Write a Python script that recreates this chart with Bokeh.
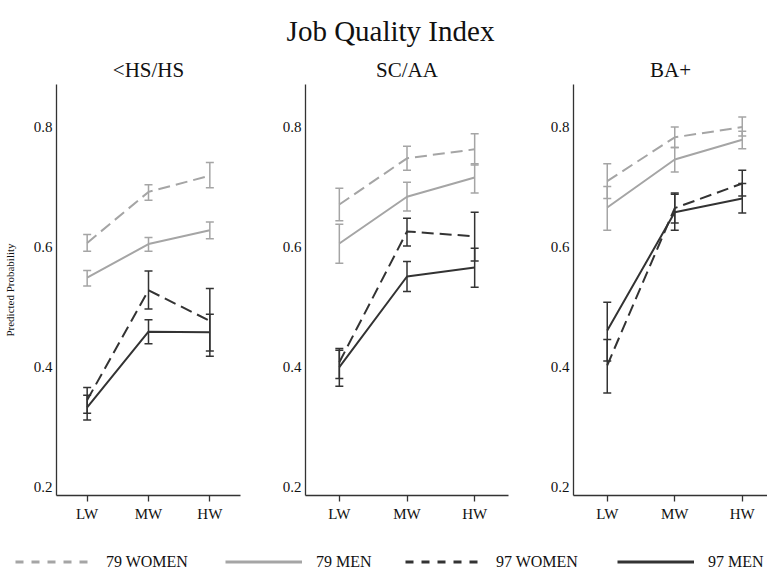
from bokeh.plotting import figure
from bokeh.layouts import column, row
from bokeh.models import (ColumnDataSource, Whisker, TeeHead, FixedTicker, Range1d,
                          Legend, LegendItem, Label)
from bokeh.embed import file_html
from bokeh.resources import INLINE

# ---------------- data ----------------
categories = ["LW", "MW", "HW"]
x_pos = [1, 2, 3]
panel_titles = ["<HS/HS", "SC/AA", "BA+"]
series_names = ["79 WOMEN", "79 MEN", "97 WOMEN", "97 MEN"]
y_ticks = [0.2, 0.4, 0.6, 0.8]

# <HS/HS
hs_w79 = [0.607, 0.692, 0.719]; hs_w79_lo = [0.593, 0.678, 0.699]; hs_w79_hi = [0.621, 0.704, 0.741]
hs_m79 = [0.549, 0.605, 0.628]; hs_m79_lo = [0.535, 0.593, 0.614]; hs_m79_hi = [0.561, 0.616, 0.642]
hs_w97 = [0.345, 0.528, 0.477]; hs_w97_lo = [0.323, 0.497, 0.418]; hs_w97_hi = [0.366, 0.560, 0.531]
hs_m97 = [0.333, 0.459, 0.458]; hs_m97_lo = [0.312, 0.439, 0.427]; hs_m97_hi = [0.353, 0.479, 0.488]

# SC/AA
sc_w79 = [0.671, 0.748, 0.763]; sc_w79_lo = [0.644, 0.728, 0.737]; sc_w79_hi = [0.698, 0.768, 0.789]
sc_m79 = [0.606, 0.684, 0.716]; sc_m79_lo = [0.573, 0.660, 0.690]; sc_m79_hi = [0.638, 0.708, 0.739]
sc_w97 = [0.408, 0.626, 0.618]; sc_w97_lo = [0.381, 0.602, 0.577]; sc_w97_hi = [0.431, 0.648, 0.658]
sc_m97 = [0.400, 0.551, 0.566]; sc_m97_lo = [0.368, 0.526, 0.533]; sc_m97_hi = [0.428, 0.576, 0.598]

# BA+
ba_w79 = [0.710, 0.783, 0.800]; ba_w79_lo = [0.681, 0.766, 0.785]; ba_w79_hi = [0.739, 0.800, 0.817]
ba_m79 = [0.666, 0.746, 0.779]; ba_m79_lo = [0.628, 0.725, 0.764]; ba_m79_hi = [0.701, 0.766, 0.793]
ba_w97 = [0.403, 0.665, 0.706]; ba_w97_lo = [0.357, 0.640, 0.685]; ba_w97_hi = [0.446, 0.690, 0.728]
ba_m97 = [0.461, 0.658, 0.681]; ba_m97_lo = [0.410, 0.628, 0.657]; ba_m97_hi = [0.508, 0.688, 0.706]

panels_data = [
    [(hs_w79, hs_w79_lo, hs_w79_hi), (hs_m79, hs_m79_lo, hs_m79_hi),
     (hs_w97, hs_w97_lo, hs_w97_hi), (hs_m97, hs_m97_lo, hs_m97_hi)],
    [(sc_w79, sc_w79_lo, sc_w79_hi), (sc_m79, sc_m79_lo, sc_m79_hi),
     (sc_w97, sc_w97_lo, sc_w97_hi), (sc_m97, sc_m97_lo, sc_m97_hi)],
    [(ba_w79, ba_w79_lo, ba_w79_hi), (ba_m79, ba_m79_lo, ba_m79_hi),
     (ba_w97, ba_w97_lo, ba_w97_hi), (ba_m97, ba_m97_lo, ba_m97_hi)],
]

# ---------------- styles ----------------
LIGHT = "#a5a5a5"
DARK = "#333333"
series_style = [
    dict(color=LIGHT, dash="12 6"),
    dict(color=LIGHT, dash="solid"),
    dict(color=DARK, dash="12 6"),
    dict(color=DARK, dash="solid"),
]
FONT = "Liberation Serif"
AXIS_COLOR = "#333333"
Y0, Y1 = 0.186, 0.871


def make_panel(title, data, width, bl, br, x_end, ylabel):
    p = figure(width=width, height=480, x_range=Range1d(0.5, x_end), y_range=Range1d(Y0, Y1),
               output_backend="svg", toolbar_location=None,
               min_border_left=bl, min_border_right=br, min_border_top=34, min_border_bottom=35)
    p.outline_line_color = None
    p.grid.visible = False
    p.title.text = title
    p.title.align = "center"
    p.title.text_font = FONT
    p.title.text_font_size = "21px"
    p.title.text_font_style = "normal"
    p.title.text_color = "#111111"
    p.title.standoff = 5

    xa = p.xaxis[0]
    xa.ticker = FixedTicker(ticks=x_pos)
    xa.major_label_overrides = {x: c for x, c in zip(x_pos, categories)}
    xa.major_tick_out = 6
    xa.major_tick_in = 0
    xa.minor_tick_out = 0
    xa.minor_tick_in = 0
    xa.major_label_standoff = 4
    ya = p.yaxis[0]
    ya.ticker = FixedTicker(ticks=y_ticks)
    ya.major_label_overrides = {t: f"{t:.1f}" for t in y_ticks}
    ya.major_tick_out = 0
    ya.major_tick_in = 0
    ya.minor_tick_out = 0
    ya.minor_tick_in = 0
    ya.major_label_standoff = 4
    if ylabel:
        ya.axis_label = ylabel
        ya.axis_label_text_font = FONT
        ya.axis_label_text_font_size = "11px"
        ya.axis_label_text_font_style = "normal"
        ya.axis_label_text_color = "#111111"
        ya.axis_label_standoff = 15
    for ax in (xa, ya):
        ax.axis_line_color = AXIS_COLOR
        ax.axis_line_width = 1.3
        ax.major_tick_line_color = AXIS_COLOR
        ax.major_tick_line_width = 1.3
        ax.major_label_text_font = FONT
        ax.major_label_text_font_size = "15px"
        ax.major_label_text_color = "#111111"

    for (vals, lo, hi), st in zip(data, series_style):
        src = ColumnDataSource(dict(x=x_pos, y=vals, lo=lo, hi=hi))
        w = Whisker(base="x", upper="hi", lower="lo", source=src,
                    line_color=st["color"], line_width=1.5,
                    upper_head=TeeHead(size=8, line_color=st["color"], line_width=1.5),
                    lower_head=TeeHead(size=8, line_color=st["color"], line_width=1.5))
        p.add_layout(w)
        p.line("x", "y", source=src, line_color=st["color"], line_width=2,
               line_dash=st["dash"])
    return p


p1 = make_panel(panel_titles[0], panels_data[0], 262, 54, 22, 3.5, "Predicted Probability")
p2 = make_panel(panel_titles[1], panels_data[1], 268, 43, 22, 3.5, None)
p3 = make_panel(panel_titles[2], panels_data[2], 237, 43, 0, 3.374, None)

# main title
tf = figure(width=767, height=50, x_range=Range1d(0, 1), y_range=Range1d(0, 1),
            x_axis_type=None, y_axis_type=None, output_backend="svg", toolbar_location=None,
            min_border=0)
tf.outline_line_color = None
tf.grid.visible = False
tf.add_layout(Label(x=390, y=20, x_units="screen", y_units="screen", text="Job Quality Index",
                    text_font=FONT, text_font_size="29px", text_align="center",
                    text_baseline="alphabetic", text_color="#111111"))

# legend
lg = figure(width=767, height=44, x_range=Range1d(0, 1), y_range=Range1d(0, 1),
            x_axis_type=None, y_axis_type=None, output_backend="svg", toolbar_location=None,
            min_border=0)
lg.outline_line_color = None
lg.grid.visible = False
legend_x = [15, 225, 405, 617]
nan = float("nan")
for name, st, lx in zip(series_names, series_style, legend_x):
    r = lg.line(x=x_pos, y=[nan, nan, nan], line_color=st["color"], line_width=2.8,
                line_dash="8 8" if st["dash"] != "solid" else "solid")
    leg = Legend(items=[LegendItem(label=name, renderers=[r])], orientation="horizontal",
                 location=(lx, 3), glyph_width=77, glyph_height=19, label_standoff=14,
                 padding=0, margin=0, border_line_color=None, background_fill_alpha=0,
                 label_text_font=FONT, label_text_font_size="16px", label_height=19,
                 label_text_color="#111111")
    lg.add_layout(leg, "center")

layout = column(tf, row(p1, p2, p3), lg)
open("out.html", "w").write(file_html(layout, INLINE))
